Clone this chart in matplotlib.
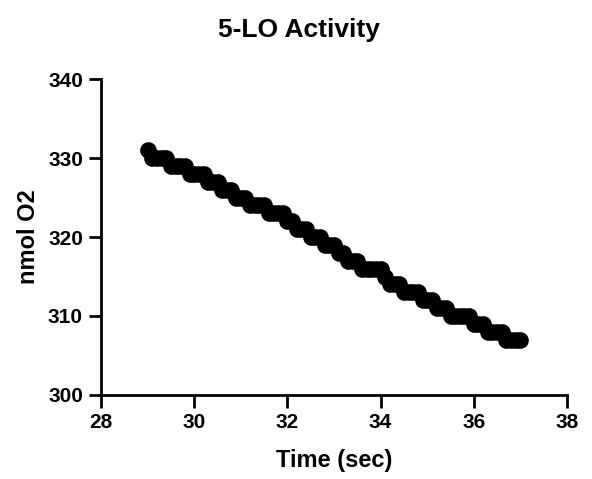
import matplotlib
matplotlib.use("Agg")
import matplotlib.pyplot as plt

plt.rcParams['font.family'] = ['Liberation Sans', 'DejaVu Sans']

time_sec = [29.0, 29.1, 29.2, 29.3, 29.4, 29.5, 29.6, 29.7, 29.8, 29.9,
            30.0, 30.1, 30.2, 30.3, 30.4, 30.5, 30.6, 30.7, 30.8, 30.9,
            31.0, 31.1, 31.2, 31.3, 31.4, 31.5, 31.6, 31.7, 31.8, 31.9,
            32.0, 32.1, 32.2, 32.3, 32.4, 32.5, 32.6, 32.7, 32.8, 32.9,
            33.0, 33.1, 33.2, 33.3, 33.4, 33.5, 33.6, 33.7, 33.8, 33.9,
            34.0, 34.1, 34.2, 34.3, 34.4, 34.5, 34.6, 34.7, 34.8, 34.9,
            35.0, 35.1, 35.2, 35.3, 35.4, 35.5, 35.6, 35.7, 35.8, 35.9,
            36.0, 36.1, 36.2, 36.3, 36.4, 36.5, 36.6, 36.7, 36.8, 36.9,
            37.0]
nmol_o2 = [331, 330, 330, 330, 330, 329, 329, 329, 329, 328,
           328, 328, 328, 327, 327, 327, 326, 326, 326, 325,
           325, 325, 324, 324, 324, 324, 323, 323, 323, 323,
           322, 322, 321, 321, 321, 320, 320, 320, 319, 319,
           319, 318, 318, 317, 317, 317, 316, 316, 316, 316,
           316, 315, 314, 314, 314, 313, 313, 313, 313, 312,
           312, 312, 311, 311, 311, 310, 310, 310, 310, 310,
           309, 309, 309, 308, 308, 308, 308, 307, 307, 307,
           307]

fig = plt.figure(figsize=(5.92, 4.79), dpi=100)
ax = fig.add_axes([0.1706, 0.1754, 0.7872, 0.6596])
ax.plot(time_sec, nmol_o2, 'o', color='black', markersize=12, markeredgewidth=0)

ax.set_xlim(28, 38)
ax.set_ylim(300, 340)
ax.set_xticks([28, 30, 32, 34, 36, 38])
ax.set_yticks([300, 310, 320, 330, 340])
for s in ['top', 'right']:
    ax.spines[s].set_visible(False)
for s in ['left', 'bottom']:
    ax.spines[s].set_linewidth(2)
    ax.spines[s].set_color('black')
ax.tick_params(direction='out', length=9, width=2, labelsize=15, pad=4)
for lab in ax.get_xticklabels() + ax.get_yticklabels():
    lab.set_fontweight('bold')
ax.set_xlabel('Time (sec)', fontsize=17, fontweight='bold', labelpad=12)
ax.set_ylabel('nmol O2', fontsize=17, fontweight='bold', labelpad=6)
fig.suptitle('5-LO Activity', x=0.505, y=0.962, fontsize=19, fontweight='bold', va='top')

fig.savefig('out.png', dpi=100)
